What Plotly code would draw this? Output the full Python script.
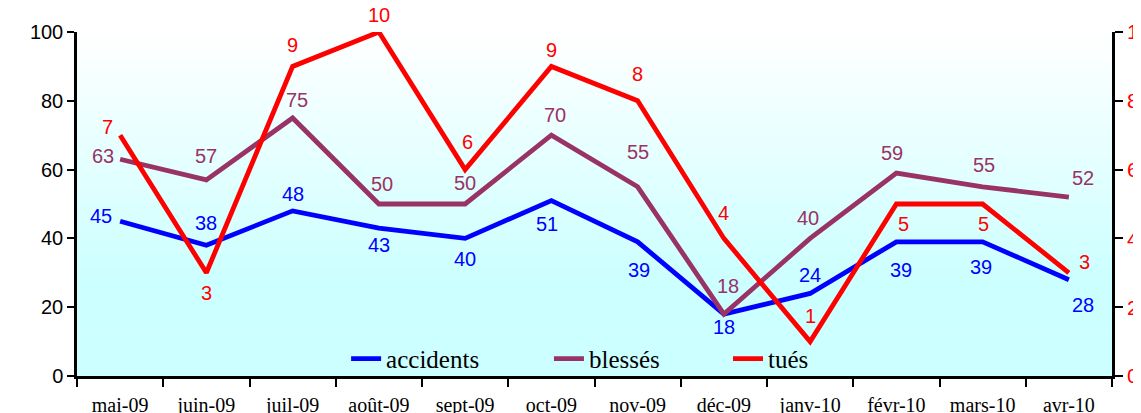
import plotly.graph_objects as go

months = ["mai-09", "juin-09", "juil-09", "août-09", "sept-09", "oct-09",
          "nov-09", "déc-09", "janv-10", "févr-10", "mars-10", "avr-10"]
accidents = [45, 38, 48, 43, 40, 51, 39, 18, 24, 39, 39, 28]
blesses = [63, 57, 75, 50, 50, 70, 55, 18, 40, 59, 55, 52]
tues = [7, 3, 9, 10, 6, 9, 8, 4, 1, 5, 5, 3]

# label offsets in pixels (dx right, dy down)
off_acc = [(-19, -5), (0, -22), (0, -17), (0, 17), (0, 21), (-4, 23),
           (1, 28), (0, 13), (0, -18), (5, 28), (-2, 25), (14, 25)]
off_bl = [(-17, -3), (0, -24), (4, -18), (3, -20), (0, -21), (4, -20),
          (0, -35), (4, -28), (-2, -20), (-4, -20), (1, -22), (14, -19)]
off_tu = [(-13, -8), (0, 20), (0, -21), (0, -17), (2, -28), (0, -16),
          (0, -27), (0, -25), (0, -26), (7, 20), (1, 20), (16, -11)]

BLUE = "#0000FF"
PURPLE = "#993366"
RED = "#FF0000"

fig = go.Figure()
fig.add_trace(go.Scatter(x=months, y=accidents, name="accidents", mode="lines",
                         line=dict(color=BLUE, width=4.8), legend="legend"))
fig.add_trace(go.Scatter(x=months, y=blesses, name="blessés", mode="lines",
                         line=dict(color=PURPLE, width=4.8), legend="legend2"))
fig.add_trace(go.Scatter(x=months, y=tues, name="tués", mode="lines",
                         line=dict(color=RED, width=4.8), yaxis="y2", legend="legend3"))

annotations = []
for vals, offs, color, yref in [(accidents, off_acc, BLUE, "y"),
                                (blesses, off_bl, PURPLE, "y"),
                                (tues, off_tu, RED, "y2")]:
    for m, v, (dx, dy) in zip(months, vals, offs):
        annotations.append(dict(x=m, y=v, xref="x", yref=yref, text=str(v),
                                showarrow=False, xshift=dx, yshift=-dy,
                                font=dict(family="Liberation Sans, Arial", size=20, color=color)))

# background gradient (white at top -> light cyan)
shapes = []
N = 60
top_c = (255, 255, 255)
bot_c = (204, 255, 255)
for i in range(N):
    y0 = i / N
    y1 = (i + 1) / N
    t = min(1.0, max(0.0, (1 - (y0 + y1) / 2) / 0.72))
    c = tuple(round(top_c[k] + (bot_c[k] - top_c[k]) * t) for k in range(3))
    shapes.append(dict(type="rect", xref="paper", yref="paper", x0=0, x1=1,
                       y0=y0, y1=y1 + 0.002, line=dict(width=0),
                       fillcolor="rgb(%d,%d,%d)" % c, layer="below"))

legend_font = dict(family="Liberation Serif, Times New Roman", size=25, color="black")
def leg(x):
    return dict(orientation="h", x=x, xanchor="left", y=0.05, yanchor="middle",
                bgcolor="rgba(0,0,0,0)", font=legend_font, itemwidth=30)

fig.update_layout(
    template="none",
    width=1133, height=405,
    margin=dict(l=69, r=29, t=24, b=37, pad=0),
    paper_bgcolor="white",
    plot_bgcolor="rgba(0,0,0,0)",
    shapes=shapes,
    annotations=annotations,
    showlegend=True,
    legend=leg(0.260),
    legend2=leg(0.456),
    legend3=leg(0.629),
    xaxis=dict(type="category", tickson="boundaries", ticks="outside", ticklen=8,
               tickwidth=2, tickcolor="black", showline=True, linecolor="black",
               linewidth=2.5, showgrid=False, zeroline=False, ticklabelstandoff=9,
               tickfont=dict(family="Liberation Serif, Times New Roman", size=20, color="black"),
               range=[-0.5, 11.5], automargin=False),
    yaxis=dict(range=[0, 100], tickvals=[0, 20, 40, 60, 80, 100], ticks="outside",
               ticklen=7, tickwidth=2, tickcolor="black", showline=True,
               linecolor="black", linewidth=2.5, showgrid=False, zeroline=False,
               tickfont=dict(family="Liberation Sans, Arial", size=20, color="black"),
               automargin=False),
    yaxis2=dict(range=[0, 10], tickvals=[0, 2, 4, 6, 8, 10], overlaying="y", side="right",
                ticks="outside", ticklen=8, tickwidth=2, tickcolor="black",
                showline=True, linecolor="black", linewidth=2.5, showgrid=False,
                zeroline=False,
                tickfont=dict(family="Liberation Sans, Arial", size=21, color=RED),
                automargin=False),
    yaxis3=dict(range=[0, 10], tickvals=[0, 2, 4, 6, 8, 10], overlaying="y", side="right",
                ticks="inside", ticklen=8, tickwidth=2, tickcolor="black",
                showline=False, showgrid=False, zeroline=False, showticklabels=False,
                automargin=False),
)

fig.write_html("out.html")
